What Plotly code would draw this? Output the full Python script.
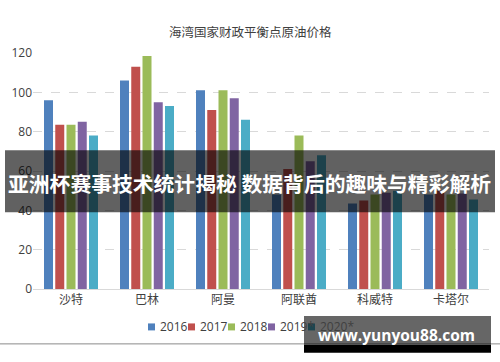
import plotly.graph_objects as go

categories = ["沙特", "巴林", "阿曼", "阿联酋", "科威特", "卡塔尔"]
series_names = ["2016", "2017", "2018", "2019*", "2020*"]
v2016 = [96, 106, 101, 48, 43.5, 48]
v2017 = [83.5, 113, 91, 61, 45, 50]
v2018 = [83.5, 118.5, 101, 78, 48, 48]
v2019 = [85, 95, 97, 65, 49, 48.5]
v2020 = [78, 93, 86, 68, 50, 45.5]
series_values = [v2016, v2017, v2018, v2019, v2020]
colors = ["#4F81BD", "#C0504D", "#9BBB59", "#8064A2", "#4BACC6"]
y_ticks = [0, 20, 40, 60, 80, 100, 120]

title = "海湾国家财政平衡点原油价格"
banner = "亚洲杯赛事技术统计揭秘 数据背后的趣味与精彩解析"
watermark = "www.yunyou88.com"

W_, H_ = 500, 362
L, R, T, B = 33, 489, 52.5, 289
PW, PH = R - L, B - T


def px(x):
    return (x - L) / PW


def py(y):
    return (B - y) / PH


CJK = "Noto Sans CJK SC"
fig = go.Figure()
for name, vals, c in zip(series_names, series_values, colors):
    fig.add_trace(go.Bar(x=categories, y=vals, name=name, marker_color=c,
                         marker_line_width=0, showlegend=False))

shapes = []
annotations = []

# title
annotations.append(dict(x=px(250), y=py(31), xref="paper", yref="paper", text=title,
                        showarrow=False, font=dict(family=CJK, size=12.5, color="#404040"),
                        xanchor="center", yanchor="middle"))

# custom legend
for i, (name, c) in enumerate(zip(series_names, colors)):
    x0 = 148 + 40 * i
    shapes.append(dict(type="rect", xref="paper", yref="paper",
                       x0=px(x0), x1=px(x0 + 7), y0=py(330.5), y1=py(323.5),
                       fillcolor=c, line_width=0))
    annotations.append(dict(x=px(x0 + 9.5), y=py(327), xref="paper", yref="paper",
                            text=name, showarrow=False, xanchor="left", yanchor="middle",
                            font=dict(family="Open Sans", size=12, color="#404040")))

# separator line
shapes.append(dict(type="line", xref="paper", yref="paper", x0=px(0), x1=px(500),
                   y0=py(344), y1=py(344), line=dict(color="#8a8a8a", width=1)))

# banner overlay
shapes.append(dict(type="rect", xref="paper", yref="paper", x0=px(5), x1=px(495),
                   y0=py(212), y1=py(150), fillcolor="rgba(0,0,0,0.62)", line_width=0,
                   layer="above"))
annotations.append(dict(x=px(249), y=py(183), xref="paper", yref="paper", text="<b>" + banner + "</b>",
                        showarrow=False, xanchor="center", yanchor="middle",
                        font=dict(family=CJK, size=20.8, color="white")))

# watermark
shapes.append(dict(type="rect", xref="paper", yref="paper", x0=px(304), x1=px(491),
                   y0=py(345), y1=py(316), fillcolor="rgba(0,0,0,0.6)", line_width=0,
                   layer="above"))
shapes.append(dict(type="rect", xref="paper", yref="paper", x0=px(304), x1=px(491),
                   y0=py(353), y1=py(345), fillcolor="black", line_width=0, layer="above"))
annotations.append(dict(x=px(396), y=py(335), xref="paper", yref="paper", text="<b>" + watermark + "</b>",
                        showarrow=False, xanchor="center", yanchor="middle",
                        font=dict(family="Open Sans", size=15.5, color="white")))

fig.update_layout(
    width=W_, height=H_,
    margin=dict(l=L, r=W_ - R, t=T, b=H_ - B, pad=0),
    paper_bgcolor="white", plot_bgcolor="white",
    barmode="group", bargap=0.26, bargroupgap=0.2,
    showlegend=False,
    shapes=shapes, annotations=annotations,
    xaxis=dict(showline=True, linecolor="#d9d9d9", linewidth=1, ticks="",
               tickfont=dict(family=CJK, size=12, color="#404040"), showgrid=False),
    yaxis=dict(range=[0, 120], tickvals=y_ticks, showgrid=True, gridcolor="#d9d9d9",
               griddash="dash", zeroline=False, showline=False, ticks="",
               tickfont=dict(family="Open Sans", size=12, color="#404040")),
)

fig.write_html("out.html", config={"displayModeBar": False},
               post_script="document.body.style.margin='0';document.body.style.overflow='hidden';")
